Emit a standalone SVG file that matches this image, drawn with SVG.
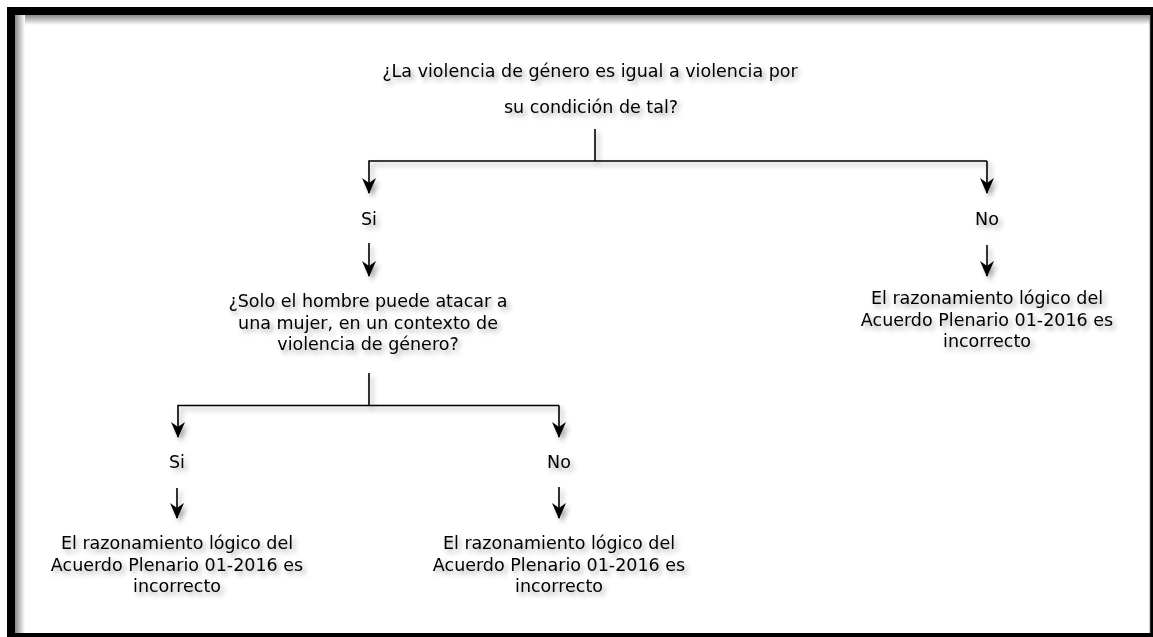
<svg xmlns="http://www.w3.org/2000/svg" width="1153" height="637" viewBox="0 0 1153 637">
  <defs>
    <style>
      .t { font-family: "Comic Sans MS", "DejaVu Sans", sans-serif; font-size: 17.5px; fill: #000; text-anchor: middle; }
      .c { stroke: #000; stroke-width: 1.6; fill: none; }
    </style>
    <filter id="sh" x="-10%" y="-10%" width="130%" height="150%">
      <feDropShadow dx="3" dy="3.5" stdDeviation="2.5" flood-color="#000" flood-opacity="0.35"/>
    </filter>
    <marker id="ah" viewBox="0 0 16 14" refX="15" refY="7" markerWidth="16" markerHeight="14" markerUnits="userSpaceOnUse" orient="auto">
      <path d="M0,0 L16,7 L0,14 L5,7 Z" fill="#000"/>
    </marker>
    <linearGradient id="gTop" x1="0" y1="0" x2="0" y2="1">
      <stop offset="0" stop-color="#8a8a8a"/>
      <stop offset="1" stop-color="#ffffff"/>
    </linearGradient>
    <linearGradient id="gLeft" x1="0" y1="0" x2="1" y2="0">
      <stop offset="0" stop-color="#8a8a8a"/>
      <stop offset="1" stop-color="#ffffff"/>
    </linearGradient>
  </defs>

  <!-- frame -->
  <rect x="0" y="0" width="1153" height="637" fill="#ffffff"/>
  <rect x="7" y="7" width="1152" height="636" fill="#000"/>
  <rect x="15" y="15" width="1135" height="618" fill="#ffffff"/>
  <rect x="15" y="15" width="1135" height="10" fill="url(#gTop)"/>
  <rect x="15" y="15" width="10" height="618" fill="url(#gLeft)"/>
  <rect x="1149.5" y="15" width="0.8" height="618" fill="#999"/>

  <g filter="url(#sh)">
    <g id="connectors">
      <path class="c" d="M595,129 V161"/>
      <path class="c" d="M987,161 H369 V193" marker-end="url(#ah)"/>
      <path class="c" d="M987,161 V193" marker-end="url(#ah)"/>
      <path class="c" d="M369,243 V276" marker-end="url(#ah)"/>
      <path class="c" d="M987,245 V276" marker-end="url(#ah)"/>
      <path class="c" d="M369,373 V405.5"/>
      <path class="c" d="M559,405.5 H178 V437" marker-end="url(#ah)"/>
      <path class="c" d="M559,405.5 V437" marker-end="url(#ah)"/>
      <path class="c" d="M177,488 V518" marker-end="url(#ah)"/>
      <path class="c" d="M559,487 V518" marker-end="url(#ah)"/>
    </g>

    <g id="q1">
      <text class="t" x="590" y="77">¿La violencia de género es igual a violencia por</text>
      <text class="t" x="591" y="113">su condición de tal?</text>
    </g>
    <g id="si1">
      <text class="t" x="369" y="225">Si</text>
    </g>
    <g id="no1">
      <text class="t" x="987" y="225">No</text>
    </g>
    <g id="q2">
      <text class="t" x="368" y="307">¿Solo el hombre puede atacar a</text>
      <text class="t" x="368" y="328.5">una mujer, en un contexto de</text>
      <text class="t" x="368" y="350">violencia de género?</text>
    </g>
    <g id="r1">
      <text class="t" x="987" y="304">El razonamiento lógico del</text>
      <text class="t" x="987" y="325.5">Acuerdo Plenario 01-2016 es</text>
      <text class="t" x="987" y="347">incorrecto</text>
    </g>
    <g id="si2">
      <text class="t" x="177" y="468">Si</text>
    </g>
    <g id="no2">
      <text class="t" x="559" y="468">No</text>
    </g>
    <g id="r2">
      <text class="t" x="177" y="549">El razonamiento lógico del</text>
      <text class="t" x="177" y="570.5">Acuerdo Plenario 01-2016 es</text>
      <text class="t" x="177" y="592">incorrecto</text>
    </g>
    <g id="r3">
      <text class="t" x="559" y="549">El razonamiento lógico del</text>
      <text class="t" x="559" y="570.5">Acuerdo Plenario 01-2016 es</text>
      <text class="t" x="559" y="592">incorrecto</text>
    </g>
  </g>
</svg>
